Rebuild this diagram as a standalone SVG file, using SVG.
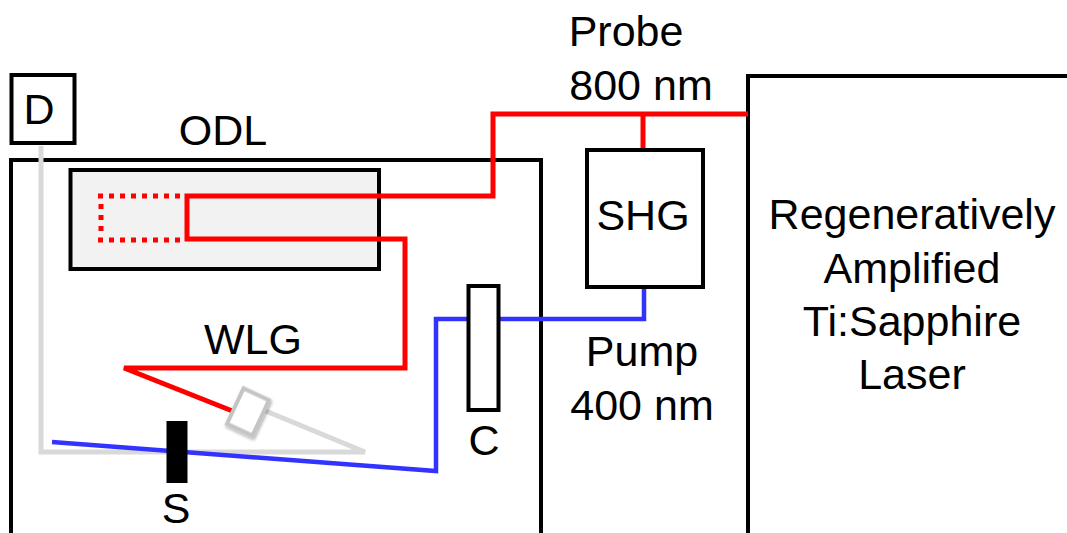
<svg xmlns="http://www.w3.org/2000/svg" width="1067" height="533" viewBox="0 0 1067 533">
<style>
text{font-family:"Liberation Sans",Arial,sans-serif;font-size:43px;fill:#000;text-anchor:middle}
.box{fill:#fff;stroke:#000;stroke-width:4}
.red{fill:none;stroke:#f00;stroke-width:5}
.dot{fill:none;stroke:#f00;stroke-width:5;stroke-dasharray:5 6}
.blue{fill:none;stroke:#3333ff;stroke-width:4.500}
.gray{fill:none;stroke:#d9d9d9;stroke-width:5}
</style>
<defs><filter id="sh" x="-30%" y="-30%" width="170%" height="170%"><feDropShadow dx="1.500" dy="1.500" stdDeviation="1.500" flood-color="#000" flood-opacity="0.35"/></filter></defs>
<g id="enclosure"><path d="M11 533V160H541V533" fill="#fff" stroke="#000" stroke-width="4"/></g>
<g id="laser"><path d="M1067 76H748V533" fill="#fff" stroke="#000" stroke-width="4"/>
<text x="912" y="229">Regeneratively</text><text x="912" y="283">Amplified</text><text x="912" y="336">Ti:Sapphire</text><text x="912" y="389">Laser</text></g>
<g id="odl"><rect x="70.500" y="170" width="308.500" height="99" fill="#f2f2f2" stroke="#000" stroke-width="4"/><text x="223" y="145">ODL</text></g>
<g id="connectors">
<path class="gray" d="M41 146V452H365L256 407"/>
<path class="blue" d="M52 442L436 471V319H644V288"/>
<path class="red" d="M748 114H493V196H187V239H405V368H124L240 414"/>
<path class="red" d="M643 114V150"/>
<path class="dot" d="M180 196H98"/>
<path class="dot" d="M101 204V232"/>
<path class="dot" d="M180 240H98"/>
</g>
<g id="D"><rect class="box" x="11.500" y="75" width="63" height="68"/><text x="39" y="124">D</text></g>
<g id="SHG"><rect class="box" x="587" y="150" width="116" height="137"/><text x="643" y="230">SHG</text></g>
<g id="C"><rect class="box" x="468.500" y="286" width="30" height="124"/><text x="484" y="455">C</text></g>
<g id="S"><rect x="166.500" y="421" width="21" height="62" fill="#000"/><text x="176" y="523">S</text></g>
<g id="WLG"><text x="253" y="354">WLG</text></g>
<g id="crystal"><rect x="-14" y="-19.500" width="28" height="39" transform="translate(248 412) rotate(25)" fill="#fff" stroke="#c4c4c4" stroke-width="4" filter="url(#sh)"/></g>
<g id="probe-label"><text x="626" y="46">Probe</text><text x="641" y="100">800 nm</text></g>
<g id="pump-label"><text x="642" y="366">Pump</text><text x="642" y="420">400 nm</text></g>
</svg>
